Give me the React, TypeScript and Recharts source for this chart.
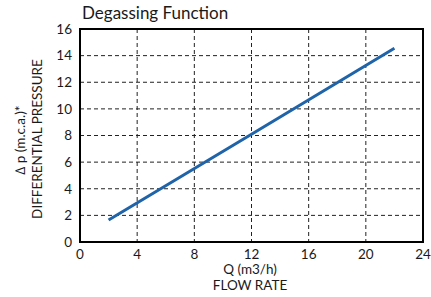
import React from "react";
import {
  LineChart,
  Line,
  XAxis,
  YAxis,
  CartesianGrid,
  ReferenceArea,
  Customized,
} from "recharts";

const flowRate = [2, 12, 22];
const pressure = [1.65, 8.1, 14.55];
const xTicks = [0, 4, 8, 12, 16, 20, 24];
const yTicks = [0, 2, 4, 6, 8, 10, 12, 14, 16];
const title = "Degassing Function";
const yLabel1 = "\u2206 p (m.c.a.)*";
const yLabel2 = "DIFFERENTIAL PRESSURE";
const xLabel1 = "Q (m3/h)";
const xLabel2 = "FLOW RATE";

const data = flowRate.map((q, i) => ({ q, p: pressure[i] }));

const FONT = "Lato, 'Open Sans', sans-serif";

const Labels = () => (
  <g fontFamily={FONT} fill="#1a1a1a">
    <text x={82} y={19} fontSize={17}>{title}</text>
    <text
      x={0}
      y={0}
      fontSize={13.5}
      textAnchor="middle"
      transform="translate(25,140) rotate(-90)"
    >
      {yLabel1}
    </text>
    <text
      x={0}
      y={0}
      fontSize={13.5}
      textAnchor="middle"
      transform="translate(41.5,139) rotate(-90)"
    >
      {yLabel2}
    </text>
    <text x={250} y={274} fontSize={13.5} textAnchor="middle">{xLabel1}</text>
    <text x={250} y={290} fontSize={13.5} textAnchor="middle">{xLabel2}</text>
  </g>
);

export default function App() {
  return (
    <div style={{ position: "absolute", left: 0, top: 0, width: 431, height: 297, background: "#fff" }}>
      <LineChart
        width={431}
        height={297}
        data={data}
        margin={{ top: 29, right: 8, bottom: 25, left: 0 }}
      >
        <CartesianGrid stroke="#222" strokeDasharray="4 3" strokeWidth={1} />
        <XAxis
          dataKey="q"
          type="number"
          domain={[0, 24]}
          ticks={xTicks}
          height={30}
          tickLine={false}
          axisLine={false}
          tickMargin={1}
          tick={{ fill: "#1a1a1a", fontSize: 13.5, fontFamily: FONT }}
          interval={0}
        />
        <YAxis
          type="number"
          domain={[0, 16]}
          ticks={yTicks}
          width={80}
          tickLine={false}
          axisLine={false}
          tick={{ fill: "#1a1a1a", fontSize: 13.5, fontFamily: FONT }}
          interval={0}
        />
        <ReferenceArea
          x1={0}
          x2={24}
          y1={0}
          y2={16}
          fill="none"
          fillOpacity={0}
          stroke="#000"
          strokeWidth={2}
          strokeOpacity={1}
        />
        <Line
          type="linear"
          dataKey="p"
          stroke="#1f63a8"
          strokeWidth={3}
          dot={false}
          isAnimationActive={false}
        />
        <Customized component={Labels} />
      </LineChart>
    </div>
  );
}
